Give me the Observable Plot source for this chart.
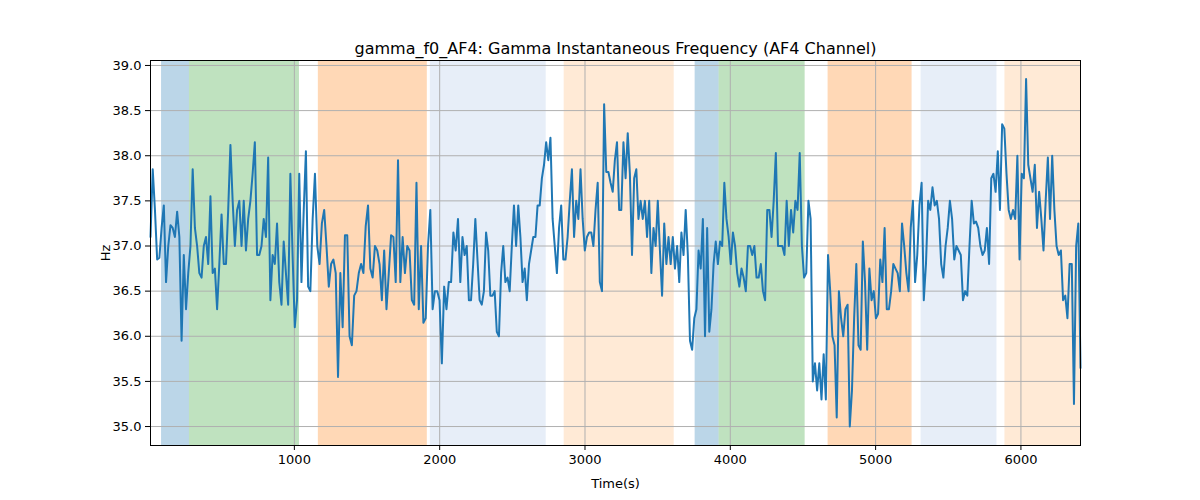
<!DOCTYPE html>
<html>
<head>
<meta charset="utf-8">
<script src="https://cdn.jsdelivr.net/npm/d3@7"></script>
<script src="https://cdn.jsdelivr.net/npm/@observablehq/plot@0.6"></script>
<style>
  body { margin: 0; background: #fff; font-family: "DejaVu Sans", sans-serif; }
</style>
</head>
<body>
<div id="chart"></div>
<script>
// segments of the signal: [start time, end time, values]
const segA = [37.1, 37.85, 37.4, 36.85, 36.87, 37.2, 37.45, 36.6, 37.0, 37.23, 37.2, 37.1, 37.38, 37.1, 35.95, 36.9, 36.3, 36.7, 37.0, 37.85, 37.2, 37.0, 36.7, 36.65, 37.0, 37.1, 36.8, 37.55, 36.7, 36.75, 36.3, 36.8, 37.35, 36.8, 36.8, 37.4, 38.12, 37.5, 37.0, 37.4, 37.5, 37.0, 37.5, 36.95, 37.3, 37.5, 37.8, 38.15, 36.9, 36.9, 37.0, 37.3, 37.1, 37.98, 36.4, 36.9, 36.8, 37.25, 36.6, 36.35, 37.05, 36.7, 36.35, 37.8, 36.9, 36.1, 36.4, 37.8, 36.6, 37.38, 38.05, 36.55, 36.5]
const segB = [36.6, 37.3, 37.8, 37.0, 36.8, 37.25, 37.4, 37.0, 36.55, 36.8, 36.85, 36.7, 35.55, 36.7, 36.1, 37.12, 37.12, 36.0, 35.9, 36.45, 36.5, 36.7, 36.8, 36.7, 37.22, 37.45, 36.75, 36.65, 37.0, 36.95, 36.8, 36.4, 36.95, 36.3, 36.7, 37.12, 37.1, 36.6, 37.95, 36.6, 37.1, 36.7, 37.0, 36.95, 36.4, 36.35, 37.7, 36.3, 37.0, 36.15, 36.2, 37.0, 37.4, 36.3, 36.5, 36.5, 36.4, 35.7, 36.55, 36.3, 36.6, 36.6, 37.15, 36.95, 37.3, 36.6]
const segC = [36.65, 37.1, 36.9, 37.0, 36.4, 36.4, 36.8, 37.3, 36.85, 36.4, 36.35, 36.5, 37.15, 36.95, 36.45, 36.45, 36.5, 36.05, 36.0, 36.7, 37.0, 36.6, 36.65, 36.5, 37.0, 37.45, 37.0, 37.45, 37.1, 36.6, 36.75, 36.4, 36.8, 36.95, 37.1, 37.1, 37.45, 37.45, 37.75, 37.9, 38.15, 37.95, 38.2, 37.3, 37.0, 36.7, 37.2, 37.45, 36.85, 36.85, 37.1, 37.5, 37.85, 37.1, 37.5, 37.3, 37.85, 37.3, 36.95, 37.1, 37.15, 37.15, 37.0, 37.4, 37.7, 36.6, 36.5, 38.57, 37.82, 37.82, 37.7, 37.6, 37.95, 38.15, 37.4, 37.4, 38.15, 37.75, 38.25, 37.8, 36.9, 37.75, 37.85, 37.3, 37.5, 37.3, 37.5, 37.1, 37.5, 36.7, 37.2, 37.0, 37.5, 36.95, 36.45, 37.25, 36.8, 37.1, 36.8, 37.1, 36.75, 37.0, 36.6, 37.15, 36.9, 37.4, 36.9, 35.95, 35.85, 36.2, 36.3, 36.95, 36.75, 37.3, 36.0, 37.2, 36.05, 36.3, 36.8, 37.05, 36.8, 37.05, 37.0, 37.7, 37.3, 37.1, 36.8, 37.15, 37.0, 36.7, 36.55, 36.75, 36.65, 36.5, 37.0, 37.0, 36.9, 37.0, 36.65, 36.65, 36.8, 36.5, 36.4, 37.4, 37.4, 37.1, 37.5, 38.03, 37.0, 37.0]
const segD = [37.5, 37.0, 36.9, 37.5, 37.0, 37.4, 37.15, 37.5, 37.4, 38.03, 37.0, 36.65, 36.7, 37.5, 37.3, 35.5, 35.7, 35.4, 35.7, 35.3, 35.8, 35.3, 36.9, 36.5, 36.0, 35.9, 35.1, 36.5, 36.2, 36.0, 36.3, 36.35, 35.0, 35.4, 36.2, 36.8, 35.9, 35.85, 37.05, 36.6, 35.85, 36.75, 36.4, 36.5, 36.2, 36.25, 36.85, 36.6, 37.2, 36.3, 36.3, 36.5, 36.8, 36.75, 36.7, 36.5, 37.25, 37.0, 36.7, 36.5, 37.2, 37.5, 36.6, 36.9, 37.45, 37.7, 36.4, 36.8, 37.5, 37.4, 37.65, 37.45, 37.5, 37.3, 36.8, 36.65, 37.0, 37.2, 37.5, 37.3, 36.85, 37.0, 36.95, 36.9, 36.4, 36.5, 36.45, 37.0, 37.5, 37.25, 37.27, 37.2, 37.0, 36.9, 36.95, 37.2, 36.8, 37.75, 37.8, 37.6, 38.05, 37.4, 38.35, 38.3, 37.8, 37.4, 37.3, 37.4, 37.3, 38.0, 36.85, 37.8, 37.75, 38.85, 37.9, 37.75, 37.6, 37.9, 37.2, 37.6, 37.3, 36.95, 37.5, 37.98, 37.3, 38.0, 37.4, 37.0, 36.9, 36.95, 36.4, 36.45, 36.2, 36.8, 36.8, 35.25, 37.0, 37.25, 35.65]
const segStarts = [10, 1110, 2142, 4343]
const segEnds = [1110, 2142, 4343, 6410]

// shaded bands
const bandStart = [86, 278, 1165, 1936, 2857, 3758, 3923, 4673, 5313, 5890]
const bandEnd = [278, 1035, 1915, 2733, 3614, 3923, 4515, 5251, 5835, 6410]
const bandColor = ['#1f77b4', '#2ca02c', '#ff7f0e', '#aec7e8', '#ffbb78', '#1f77b4', '#2ca02c', '#ff7f0e', '#aec7e8', '#ffbb78']

const yTicks = [35.0, 35.5, 36.0, 36.5, 37.0, 37.5, 38.0, 38.5, 39.0]
const xTicks = [1000, 2000, 3000, 4000, 5000, 6000]

const series = []
;[segA, segB, segC, segD].forEach((vals, k) => {
  const n = vals.length
  vals.forEach((v, i) => {
    if (k > 0 && i === 0) return
    const t = segStarts[k] + (segEnds[k] - segStarts[k]) * i / (n - 1)
    series.push({ t, v })
  })
})
const bands = bandStart.map((s, i) => ({ s, e: bandEnd[i], c: bandColor[i] }))

let chart = Plot.plot({
  width: 1200,
  height: 500,
  marginLeft: 150,
  marginRight: 120,
  marginTop: 60,
  marginBottom: 55,
  style: { fontFamily: 'DejaVu Sans, sans-serif', fontSize: '13px', color: '#000' },
  x: { domain: [10, 6410], ticks: xTicks, tickFormat: d3.format('d'), label: 'Time(s)', labelArrow: 'none', labelAnchor: 'center', labelOffset: 42, tickSize: 5 },
  y: { domain: [34.79, 39.055], ticks: yTicks, tickFormat: d3.format('.1f'), label: 'Hz', labelArrow: 'none', labelAnchor: 'center', labelOffset: 50, tickSize: 5 },
  marks: [
    Plot.rectX(bands, { x1: 's', x2: 'e', fill: 'c', fillOpacity: 0.3 }),
    Plot.gridX(xTicks, { stroke: '#b0b0b0', strokeOpacity: 1, strokeWidth: 1 }),
    Plot.gridY(yTicks, { stroke: '#b0b0b0', strokeOpacity: 1, strokeWidth: 1 }),
    Plot.line(series, { x: 't', y: 'v', stroke: '#1f77b4', strokeWidth: 2 }),
    Plot.frame({ stroke: '#000' }),
    Plot.text(['gamma_f0_AF4: Gamma Instantaneous Frequency (AF4 Channel)'], { frameAnchor: 'top', dy: -7, fontSize: 16, lineAnchor: 'bottom' }),
  ],
})
d3.select('#chart').append(() => chart)
</script>
</body>
</html>
